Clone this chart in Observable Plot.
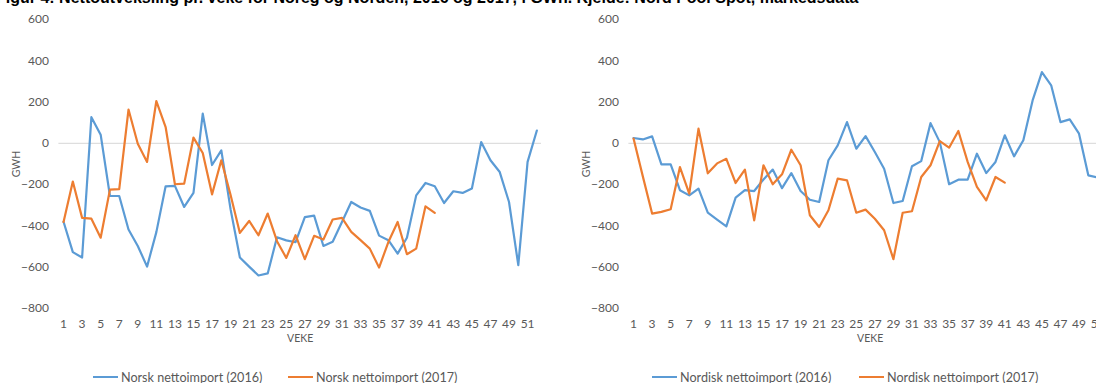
<!DOCTYPE html>
<html>
<head>
<meta charset="utf-8">
<script src="https://cdn.jsdelivr.net/npm/d3@7"></script>
<script src="https://cdn.jsdelivr.net/npm/@observablehq/plot@0.6"></script>
<style>
  html, body { margin: 0; padding: 0; background: #fff; }
  body { width: 1096px; height: 383px; overflow: hidden; position: relative; font-family: Lato, "Open Sans", sans-serif; }
  #title { position: absolute; left: -4px; top: -11px; line-height: 16px; font: bold 16px "Liberation Sans", Arial, sans-serif; color: #000; white-space: nowrap; }
  .panel { position: absolute; top: 0; width: 560px; height: 383px; }
  .legend-item { position: absolute; top: 369px; height: 16px; display: flex; align-items: center; font-size: 12.6px; color: #595959; white-space: nowrap; }
  .swatch { display: inline-block; width: 25px; height: 2px; margin-right: 3px; }
</style>
</head>
<body>
<div id="title">Figur 4: Nettoutveksling pr. veke for Noreg og Norden, 2016 og 2017, i GWh. Kjelde: Nord Pool Spot, markedsdata</div>
<div id="left" class="panel" style="left:0px"></div>
<div id="right" class="panel" style="left:570px"></div>
<div id="legends"></div>
<script>
// Weekly net import, GWh
const weekTicks = d3.range(1, 53, 2);
const yTicks = [-800, -600, -400, -200, 0, 200, 400, 600];

const norsk2016 = [-380, -527, -553, 127, 42, -255, -255, -417, -497, -597, -430, -208, -206, -308, -240, 144,
  -105, -34, -320, -553, -597, -640, -630, -455, -470, -479, -357, -350, -497, -477, -381, -284, -311, -327,
  -447, -469, -534, -457, -252, -192, -208, -289, -232, -240, -219, 6, -82, -139, -284, -590, -90, 62];
const norsk2017 = [-381, -185, -361, -365, -457, -224, -222, 164, -2, -90, 205, 79, -198, -195, 28, -47,
  -247, -82, -250, -434, -376, -445, -340, -474, -555, -445, -561, -448, -466, -369, -361, -429, -469, -510,
  -602, -478, -381, -537, -510, -305, -337];
const nordisk2016 = [26, 19, 34, -102, -102, -227, -252, -219, -336, -369, -402, -263, -227, -231, -175, -127,
  -217, -144, -231, -273, -284, -82, -10, 103, -26, 35, -42, -123, -289, -279, -111, -86, 98, 6, -198, -176,
  -176, -50, -144, -90, 39, -63, 15, 208, 345, 281, 103, 116, 47, -155, -166];
const nordisk2017 = [23, -160, -340, -332, -319, -115, -244, 71, -145, -97, -75, -192, -127, -373, -106, -198,
  -150, -31, -106, -348, -405, -324, -171, -179, -336, -321, -365, -421, -561, -336, -329, -163, -106, 11,
  -21, 60, -90, -211, -276, -163, -190];

const blue = "#5B9BD5";
const orange = "#ED7D31";

function rows(name, values) {
  return values.map((v, i) => ({week: i + 1, value: v, name}));
}

function panel(series) {
  const data = series.flatMap(s => rows(s.name, s.values));
  const svg = Plot.plot({
    width: 560,
    height: 383,
    marginLeft: 58.4,
    marginRight: 19,
    marginTop: 19,
    marginBottom: 75,
    style: {fontFamily: "Lato, 'Open Sans', sans-serif", fontSize: "12px", color: "#595959", background: "transparent"},
    x: {domain: [0.5, 52.5]},
    y: {domain: [-800, 600]},
    color: {domain: series.map(s => s.name), range: series.map(s => s.color)},
    marks: [
      Plot.ruleY([0], {stroke: "#dedede", strokeWidth: 1.3}),
      Plot.axisY({ticks: yTicks, tickSize: 0, tickPadding: 10, label: "GWH", labelAnchor: "center", labelOffset: 46, labelArrow: "none"}),
      Plot.axisX({ticks: weekTicks, tickSize: 0, tickPadding: 11, tickFormat: d => String(d), label: "VEKE", labelAnchor: "center", labelOffset: 33, labelArrow: "none"}),
      Plot.line(data, {x: "week", y: "value", z: "name", stroke: "name", strokeWidth: 2.2})
    ]
  });
  svg.querySelectorAll('[aria-label="y-axis label"] text, [aria-label="x-axis label"] text')
    .forEach(t => t.setAttribute("font-size", "10.5"));
  return svg;
}

document.getElementById("left").append(panel([
  {name: "Norsk nettoimport (2016)", values: norsk2016, color: blue},
  {name: "Norsk nettoimport (2017)", values: norsk2017, color: orange}
]));
document.getElementById("right").append(panel([
  {name: "Nordisk nettoimport (2016)", values: nordisk2016, color: blue},
  {name: "Nordisk nettoimport (2017)", values: nordisk2017, color: orange}
]));

// legends below each panel
const legendItems = [
  {label: "Norsk nettoimport (2016)", color: blue, left: 93},
  {label: "Norsk nettoimport (2017)", color: orange, left: 288},
  {label: "Nordisk nettoimport (2016)", color: blue, left: 652},
  {label: "Nordisk nettoimport (2017)", color: orange, left: 859}
];
const leg = d3.select("#legends");
for (const item of legendItems) {
  const el = leg.append("div").attr("class", "legend-item").style("left", item.left + "px");
  el.append("span").attr("class", "swatch").style("background", item.color);
  el.append("span").text(item.label);
}
</script>
</body>
</html>
